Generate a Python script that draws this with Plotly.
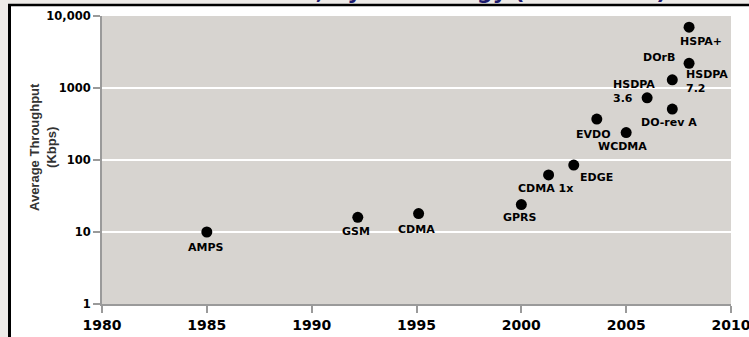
import math
import plotly.graph_objects as go

# Cellular technologies: launch year and average throughput (Kbps)
technologies = ["AMPS", "GSM", "CDMA", "GPRS", "CDMA 1x", "EDGE", "EVDO", "WCDMA",
                "HSDPA<br>3.6", "DO-rev A", "HSDPA<br>7.2", "DOrB", "HSPA+"]
years = [1985, 1992.2, 1995.1, 2000.0, 2001.3, 2002.5, 2003.6, 2005.0,
         2006.0, 2007.2, 2007.2, 2008.0, 2008.0]
throughput_kbps = [10, 16, 18, 24, 62, 85, 370, 240, 730, 510, 1300, 2200, 7000]

# label placement next to each dot: (xshift px, yshift px, xanchor)
label_offsets = [(-1, -15, "center"), (-2, -14, "center"), (-2, -16, "center"),
                 (-1, -13, "center"), (-3, -14, "center"), (23, -12, "center"),
                 (-3, -15, "center"), (-4, -14, "center"), (-36, 6, "left"),
                 (-3, -13, "center"), (12, -2, "left"), (-12, 6, "right"),
                 (12, -14, "center")]

x_ticks = [1980, 1985, 1990, 1995, 2000, 2005, 2010]
y_ticks = [1, 10, 100, 1000, 10000]
y_ticktext = ["1", "10", "100", "1000", "10,000"]

title_text = "Cellular bandwidth, by technology (1980-2010)"

W, H = 749, 337
ML, MR, MT, MB = 102, 18, 16, 33
PW, PH = W - ML - MR, H - MT - MB

def px(xp):
    return (xp - ML) / PW

def py(yp):
    return 1 - (yp - MT) / PH

FONT = "DejaVu Sans"
AXIS_GREY = "#9a9a9a"

fig = go.Figure()
fig.add_trace(go.Scatter(
    x=years, y=throughput_kbps, mode="markers",
    marker=dict(color="black", size=11, line=dict(width=0)),
    hoverinfo="skip", showlegend=False,
))

annotations = []
for name, xv, yv, (dx, dy, anchor) in zip(technologies, years, throughput_kbps, label_offsets):
    # annotation positions on a log axis are given in log10 units
    annotations.append(dict(
        x=xv, y=math.log10(yv), xref="x", yref="y", text=name, showarrow=False,
        xshift=dx, yshift=dy, xanchor=anchor, yanchor="middle", align="left",
        font=dict(family=FONT, size=11, color="black", weight="bold"),
    ))

# rotated y-axis title
annotations.append(dict(
    x=px(43), y=py(147), xref="paper", yref="paper",
    text="Average Throughput<br>(Kbps)", textangle=-90, showarrow=False,
    xanchor="center", yanchor="middle",
    font=dict(family="Liberation Sans", size=13, color="#333333", weight="bold"),
))

# heading clipped by the top of the frame
annotations.append(dict(
    x=px(668), y=py(6), xref="paper", yref="paper",
    text=title_text, showarrow=False, xanchor="right", yanchor="bottom",
    font=dict(family=FONT, size=22, color="#1d1b6e", weight="bold"),
))

shapes = [
    # grey strips outside the black frame
    dict(type="rect", xref="paper", yref="paper", x0=px(0), x1=px(W), y0=py(-30), y1=py(4.5),
         fillcolor="#eeebe8", line=dict(width=0), layer="below"),
    dict(type="rect", xref="paper", yref="paper", x0=px(0), x1=px(8), y0=py(0), y1=py(H),
         fillcolor="#eeebe8", line=dict(width=0), layer="below"),
    # black frame
    dict(type="line", xref="paper", yref="paper", x0=px(8), x1=px(W + 2), y0=py(5), y1=py(5),
         line=dict(color="black", width=2.5)),
    dict(type="line", xref="paper", yref="paper", x0=px(9.5), x1=px(9.5), y0=py(4), y1=py(H + 2),
         line=dict(color="black", width=3)),
]

fig.update_layout(
    width=W, height=H,
    margin=dict(l=ML, r=MR, t=MT, b=MB, pad=0),
    paper_bgcolor="white", plot_bgcolor="#d7d4d0",
    annotations=annotations, shapes=shapes,
    xaxis=dict(
        range=[1980, 2010], tickvals=x_ticks, ticks="outside", ticklen=7, tickwidth=2,
        tickcolor=AXIS_GREY, showline=True, linecolor=AXIS_GREY, linewidth=2,
        showgrid=False, zeroline=False, automargin=False, ticklabeloverflow="allow",
        tickfont=dict(family=FONT, size=14, color="black", weight="bold"),
    ),
    yaxis=dict(
        type="log", range=[0, 4], tickvals=y_ticks, ticktext=y_ticktext,
        ticks="outside", ticklen=7, tickwidth=2, tickcolor=AXIS_GREY,
        showline=True, linecolor=AXIS_GREY, linewidth=2,
        showgrid=True, gridcolor="white", gridwidth=1.5, zeroline=False, automargin=False,
        tickfont=dict(family=FONT, size=11.5, color="black", weight="bold"),
    ),
)

fig.write_html("out.html")
